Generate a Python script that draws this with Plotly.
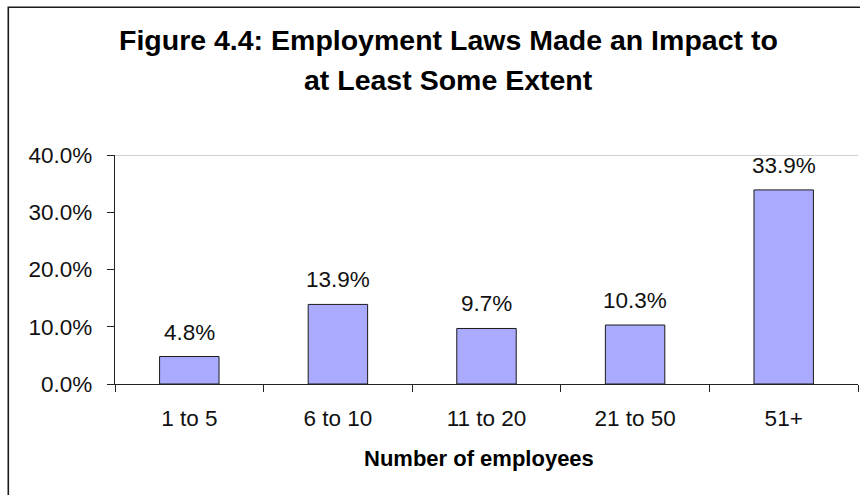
import plotly.graph_objects as go

# Share of firms reporting that employment laws had an impact, by firm size
categories = ["1 to 5", "6 to 10", "11 to 20", "21 to 50", "51+"]
impact_share = [0.048, 0.139, 0.097, 0.103, 0.339]
y_ticks = [0.0, 0.1, 0.2, 0.3, 0.4]

title_lines = ["Figure 4.4: Employment Laws Made an Impact to", "at Least Some Extent"]
x_title = "Number of employees"

W, H = 860, 495
L, R, T, B = 115, 2, 155, 111
plot_w = W - L - R
plot_h = H - T - B

FONT = "Liberation Sans, Arial, sans-serif"

fig = go.Figure()
fig.add_trace(go.Bar(
    x=categories,
    y=impact_share,
    marker=dict(color="#AAAAFF", line=dict(color="#1a1a1a", width=1)),
    hoverinfo="skip",
))

# value labels above each bar
annotations = []
for c, v in zip(categories, impact_share):
    annotations.append(dict(
        x=c, y=v, xref="x", yref="y", text=f"{v*100:.1f}%",
        showarrow=False, yanchor="bottom", yshift=10,
        font=dict(family=FONT, size=22.5, color="#111"),
    ))

# two-line bold title
for i, line in enumerate(title_lines):
    annotations.append(dict(
        x=(448 - L) / plot_w, xref="paper",
        y=(H - B - (40 + 40 * i)) / plot_h, yref="paper",
        text=f"<b>{line}</b>", showarrow=False,
        xanchor="center", yanchor="middle",
        font=dict(family=FONT, size=28.5, color="#000"),
    ))

# axis title
annotations.append(dict(
    x=(479 - L) / plot_w, xref="paper",
    y=-(458 - (H - B)) / plot_h, yref="paper",
    text=f"<b>{x_title}</b>", showarrow=False,
    xanchor="center", yanchor="middle",
    font=dict(family=FONT, size=22, color="#000"),
))

shapes = [
    # top gridline
    dict(type="line", xref="paper", yref="y", x0=0, x1=1,
         y0=max(y_ticks), y1=max(y_ticks), line=dict(color="#A0A0A0", width=1.2)),
    # chart border
    dict(type="rect", xref="paper", yref="paper",
         x0=(8.3 - L) / plot_w, x1=(W + 20 - L) / plot_w,
         y0=-(H + 20 - (H - B)) / plot_h, y1=((H - B) - 7.3) / plot_h,
         line=dict(color="#1a1a1a", width=1.6), layer="below"),
]

fig.update_layout(
    width=W, height=H,
    margin=dict(l=L, r=R, t=T, b=B),
    paper_bgcolor="white", plot_bgcolor="white",
    showlegend=False,
    bargap=0.6,
    annotations=annotations,
    shapes=shapes,
    font=dict(family=FONT, size=22.5, color="#111"),
)
fig.update_xaxes(
    type="category", showgrid=False, zeroline=False,
    showline=True, linecolor="#222", linewidth=1.2,
    ticks="outside", tickson="boundaries", ticklen=7, tickcolor="#222",
    ticklabelstandoff=14,
    tickfont=dict(family=FONT, size=22.5, color="#111"),
)
fig.update_yaxes(
    range=[0, max(y_ticks)], tickvals=y_ticks, tickformat=".1%",
    showgrid=False, zeroline=False,
    showline=True, linecolor="#222", linewidth=1.2,
    ticks="outside", ticklen=7, tickcolor="#222",
    ticklabelstandoff=10,
    tickfont=dict(family=FONT, size=22.5, color="#111"),
)

fig.write_html("out.html")
